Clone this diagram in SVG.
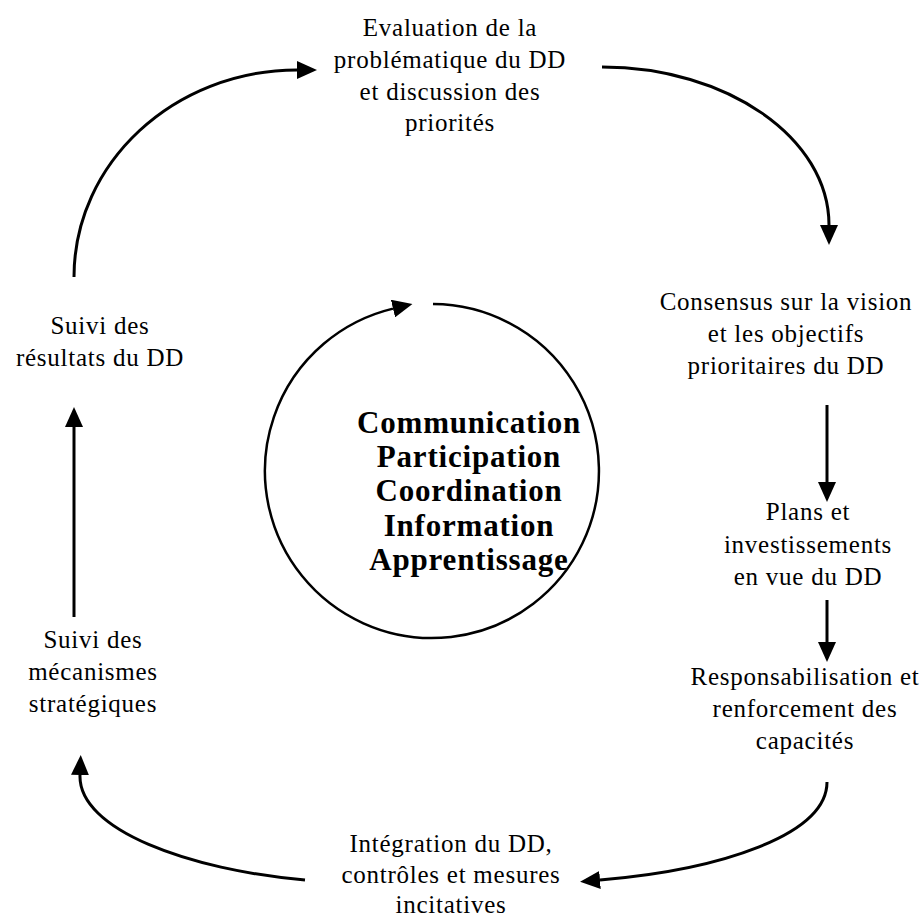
<svg xmlns="http://www.w3.org/2000/svg" width="920" height="920" viewBox="0 0 920 920">
<style>
.t{font-family:"Liberation Serif","Times New Roman",serif;font-size:25px;letter-spacing:0.75px;fill:#000;text-anchor:middle}
.b{font-family:"Liberation Serif","Times New Roman",serif;font-size:31px;font-weight:bold;letter-spacing:0.8px;fill:#000;text-anchor:middle}
.c{fill:none;stroke:#000;stroke-width:3}
</style>
<defs>
<marker id="ah" markerUnits="userSpaceOnUse" markerWidth="20" markerHeight="18" viewBox="0 0 20 18" refX="0" refY="9" orient="auto">
<path d="M0,0 L20,9 L0,18 z" fill="#000"/>
</marker>
</defs>
<rect width="920" height="920" fill="#fff"/>
<g id="connectors">
<path class="c" d="M74,277 C74,163 174,70 297,70" marker-end="url(#ah)"/>
<path class="c" d="M602,67 C727,67 829,138 829,225" marker-end="url(#ah)"/>
<path class="c" d="M827,405 L827,482" marker-end="url(#ah)"/>
<path class="c" d="M827,600 L827,642" marker-end="url(#ah)"/>
<path class="c" d="M827,782 C827,835 720,870 600,880" marker-end="url(#ah)"/>
<path class="c" d="M305,880 C190,870 78,830 80,775" marker-end="url(#ah)"/>
<path class="c" d="M74,617 L74,427" marker-end="url(#ah)"/>
<path class="c" style="stroke-width:2.5" d="M433,304 A167,167 0 1 1 393,308.6" marker-end="url(#ah)"/>
</g>
<g id="node-evaluation">
<text class="t" x="450" y="36">Evaluation de la</text>
<text class="t" x="450" y="68">problématique du DD</text>
<text class="t" x="450" y="100">et discussion des</text>
<text class="t" x="450" y="131">priorités</text>
</g>
<g id="node-consensus">
<text class="t" x="786" y="310">Consensus sur la vision</text>
<text class="t" x="786" y="342">et les objectifs</text>
<text class="t" x="786" y="374">prioritaires du DD</text>
</g>
<g id="node-plans">
<text class="t" x="808" y="520">Plans et</text>
<text class="t" x="808" y="553">investissements</text>
<text class="t" x="808" y="585">en vue du DD</text>
</g>
<g id="node-responsabilisation">
<text class="t" x="805" y="685">Responsabilisation et</text>
<text class="t" x="805" y="717">renforcement des</text>
<text class="t" x="805" y="749">capacités</text>
</g>
<g id="node-integration">
<text class="t" x="451" y="852">Intégration du DD,</text>
<text class="t" x="451" y="883">contrôles et mesures</text>
<text class="t" x="451" y="913">incitatives</text>
</g>
<g id="node-suivi-mecanismes">
<text class="t" x="93" y="648">Suivi des</text>
<text class="t" x="93" y="680">mécanismes</text>
<text class="t" x="93" y="712">stratégiques</text>
</g>
<g id="node-suivi-resultats">
<text class="t" x="100" y="334">Suivi des</text>
<text class="t" x="100" y="366">résultats du DD</text>
</g>
<g id="node-center">
<text class="b" x="469" y="433">Communication</text>
<text class="b" x="469" y="467">Participation</text>
<text class="b" x="469" y="501">Coordination</text>
<text class="b" x="469" y="536">Information</text>
<text class="b" x="469" y="570">Apprentissage</text>
</g>
</svg>
